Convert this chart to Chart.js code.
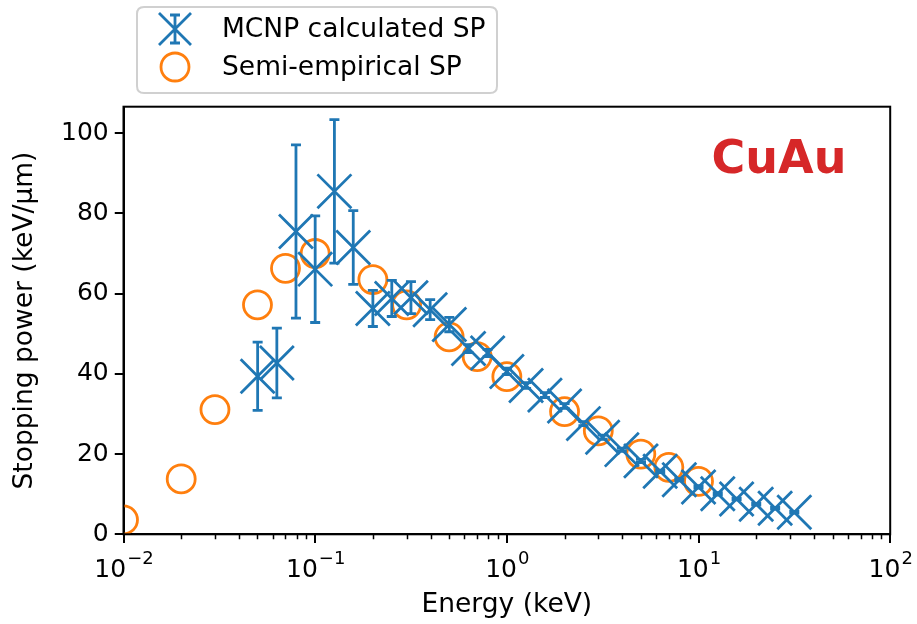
<!DOCTYPE html>
<html>
<head>
<meta charset="utf-8">
<script src="https://cdn.jsdelivr.net/npm/chart.js@4.4.1/dist/chart.umd.min.js"></script>
<style>
  html, body { margin: 0; padding: 0; background: #ffffff; }
  #c { display: block; }
</style>
</head>
<body>
<canvas id="c" width="917" height="624"></canvas>
<script>
// ---- data ----
const energiesMCNP = [0.0501, 0.0631, 0.0794, 0.1, 0.126, 0.158, 0.2, 0.251, 0.316, 0.398,
                      0.501, 0.631, 0.794, 1.0, 1.26, 1.58, 2.0, 2.51, 3.16, 3.98,
                      5.01, 6.31, 7.94, 10.0, 12.6, 15.8, 20.0, 25.1, 31.6];
const spMCNP = [39.4, 42.7, 75.5, 66.1, 85.5, 71.5, 56.3, 58.8, 59.0, 56.0,
                52.3, 46.3, 45.2, 40.6, 37.1, 34.7, 32.0, 27.6, 24.2, 21.1,
                18.3, 15.7, 13.6, 11.8, 10.1, 8.8, 7.5, 6.5, 5.5];
const errMCNP = [8.5, 8.7, 21.6, 13.3, 17.9, 9.2, 4.5, 4.5, 4.0, 2.5,
                 1.8, 1.0, 0.9, 0.8, 0.7, 0.6, 0.6, 0.5, 0.5, 0.4,
                 0.4, 0.3, 0.3, 0.3, 0.3, 0.2, 0.2, 0.2, 0.2];

const energiesSemi = [0.01, 0.02, 0.03, 0.05, 0.07, 0.1, 0.2, 0.3, 0.5, 0.7, 1, 2, 3, 5, 7, 10];
const spSemi = [3.6, 13.8, 31.1, 57.2, 66.3, 70.0, 63.5, 57.2, 49.2, 44.3, 39.3, 30.6, 25.8, 20.0, 16.7, 13.2];

const xTickValues = [0.01, 0.1, 1, 10, 100];
const xTickBase = '10';
const xTickExponents = ['\u22122', '\u22121', '0', '1', '2'];
const yTickValues = [0, 20, 40, 60, 80, 100];

const seriesNames = ['MCNP calculated SP', 'Semi-empirical SP'];
const annotationText = 'CuAu';

const BLUE = '#1f77b4';
const ORANGE = '#ff7f0e';
const FONT = "'DejaVu Sans', sans-serif";

// ---- plugins ----
const errorBarPlugin = {
  id: 'errorBars',
  afterDatasetsDraw(chart) {
    const ctx = chart.ctx, xs = chart.scales.x, ys = chart.scales.y;
    ctx.save();
    ctx.strokeStyle = BLUE;
    ctx.lineWidth = 2.8;
    ctx.lineCap = 'butt';
    for (let i = 0; i < energiesMCNP.length; i++) {
      const px = xs.getPixelForValue(energiesMCNP[i]);
      const y1 = ys.getPixelForValue(spMCNP[i] - errMCNP[i]);
      const y2 = ys.getPixelForValue(spMCNP[i] + errMCNP[i]);
      ctx.beginPath();
      ctx.moveTo(px, y1); ctx.lineTo(px, y2);
      ctx.moveTo(px - 5, y1); ctx.lineTo(px + 5, y1);
      ctx.moveTo(px - 5, y2); ctx.lineTo(px + 5, y2);
      ctx.stroke();
    }
    ctx.restore();
  }
};

const framePlugin = {
  id: 'frame',
  afterDraw(chart) {
    const ctx = chart.ctx, a = chart.chartArea, xs = chart.scales.x;
    ctx.save();
    // minor ticks on log axis
    ctx.strokeStyle = '#000';
    ctx.lineWidth = 1.5;
    ctx.beginPath();
    for (let k = -2; k <= 1; k++) {
      for (let m = 2; m <= 9; m++) {
        const v = m * Math.pow(10, k);
        const px = Math.round(xs.getPixelForValue(v)) + 0.5;
        ctx.moveTo(px, a.bottom); ctx.lineTo(px, a.bottom + 5);
      }
    }
    ctx.stroke();
    // four spines
    ctx.lineWidth = 2;
    ctx.strokeRect(a.left, a.top, a.right - a.left, a.bottom - a.top);

    // x tick labels as 10^n (placed through the x scale)
    ctx.fillStyle = '#000';
    ctx.textBaseline = 'alphabetic';
    ctx.textAlign = 'left';
    const baseFont = "25px " + FONT, supFont = "18px " + FONT;
    xTickValues.forEach((v, i) => {
      const px = xs.getPixelForValue(v);
      ctx.font = baseFont;
      const wb = ctx.measureText(xTickBase).width;
      ctx.font = supFont;
      const we = ctx.measureText(xTickExponents[i]).width;
      const x0 = px - (wb + we) / 2;
      ctx.font = baseFont;
      ctx.fillText(xTickBase, x0, 577);
      ctx.font = supFont;
      ctx.fillText(xTickExponents[i], x0 + wb + 1, 564);
    });

    // annotation
    ctx.fillStyle = '#d62728';
    ctx.font = "bold 46px " + FONT;
    ctx.textAlign = 'center';
    ctx.textBaseline = 'middle';
    ctx.fillText(annotationText, 779, 161);

    // legend
    const lx = 137, ly = 7, lw = 360, lh = 86, r = 7;
    ctx.beginPath();
    ctx.moveTo(lx + r, ly);
    ctx.lineTo(lx + lw - r, ly); ctx.quadraticCurveTo(lx + lw, ly, lx + lw, ly + r);
    ctx.lineTo(lx + lw, ly + lh - r); ctx.quadraticCurveTo(lx + lw, ly + lh, lx + lw - r, ly + lh);
    ctx.lineTo(lx + r, ly + lh); ctx.quadraticCurveTo(lx, ly + lh, lx, ly + lh - r);
    ctx.lineTo(lx, ly + r); ctx.quadraticCurveTo(lx, ly, lx + r, ly);
    ctx.closePath();
    ctx.fillStyle = 'rgba(255,255,255,0.8)';
    ctx.fill();
    ctx.strokeStyle = '#d0d0d0';
    ctx.lineWidth = 2;
    ctx.stroke();

    // legend entry 1: x marker with error bar
    const mx = 175, my1 = 29, my2 = 67;
    ctx.strokeStyle = BLUE;
    ctx.lineWidth = 2.8;
    ctx.beginPath();
    ctx.moveTo(mx - 16, my1 - 16); ctx.lineTo(mx + 16, my1 + 16);
    ctx.moveTo(mx - 16, my1 + 16); ctx.lineTo(mx + 16, my1 - 16);
    ctx.moveTo(mx, my1 - 14); ctx.lineTo(mx, my1 + 14);
    ctx.moveTo(mx - 5, my1 - 14); ctx.lineTo(mx + 5, my1 - 14);
    ctx.moveTo(mx - 5, my1 + 14); ctx.lineTo(mx + 5, my1 + 14);
    ctx.stroke();
    // legend entry 2: circle
    ctx.strokeStyle = ORANGE;
    ctx.beginPath();
    ctx.arc(mx, my2, 14, 0, Math.PI * 2);
    ctx.stroke();

    ctx.fillStyle = '#000';
    ctx.font = "26.5px " + FONT;
    ctx.textAlign = 'left';
    ctx.textBaseline = 'middle';
    ctx.fillText(seriesNames[0], 222, my1 + 1);
    ctx.fillText(seriesNames[1], 222, my2 + 1);
    ctx.restore();
  }
};

const ctx = document.getElementById('c').getContext('2d');
new Chart(ctx, {
  type: 'scatter',
  data: {
    datasets: [
      {
        label: seriesNames[0],
        data: energiesMCNP.map((e, i) => ({ x: e, y: spMCNP[i] })),
        pointStyle: 'crossRot',
        pointRadius: 24,
        pointHoverRadius: 24,
        borderColor: BLUE,
        backgroundColor: BLUE,
        pointBorderWidth: 2.8,
        borderWidth: 2.8,
        showLine: false,
        clip: 0,
        order: 0
      },
      {
        label: seriesNames[1],
        data: energiesSemi.map((e, i) => ({ x: e, y: spSemi[i] })),
        pointStyle: 'circle',
        pointRadius: 14,
        pointHoverRadius: 14,
        borderColor: ORANGE,
        backgroundColor: 'rgba(0,0,0,0)',
        pointBorderWidth: 2.8,
        borderWidth: 2.8,
        showLine: false,
        clip: 0,
        order: 1
      }
    ]
  },
  options: {
    responsive: false,
    animation: false,
    devicePixelRatio: 1,
    events: [],
    layout: { padding: { left: 0, top: 106.7, right: 22.5, bottom: 0 } },
    plugins: { legend: { display: false }, tooltip: { enabled: false } },
    scales: {
      x: {
        type: 'logarithmic',
        min: 0.01,
        max: 100,
        afterBuildTicks(scale) { scale.ticks = xTickValues.map(v => ({ value: v })); },
        afterFit(scale) { scale.height = 624 - 534.3; },
        grid: { display: true, drawOnChartArea: false, drawTicks: true, tickLength: 8.75, color: '#000', lineWidth: 2 },
        border: { display: true, color: '#000', width: 2 },
        ticks: {
          display: false,
          autoSkip: false,
          maxRotation: 0
        },
        title: {
          display: true,
          text: 'Energy (keV)',
          color: '#000',
          font: { family: FONT, size: 26.5 },
          padding: { top: 0, bottom: 3 }
        }
      },
      y: {
        type: 'linear',
        min: 0,
        max: 106.6,
        afterBuildTicks(scale) { scale.ticks = yTickValues.map(v => ({ value: v })); },
        afterFit(scale) { scale.width = 123.5; },
        grid: { display: true, drawOnChartArea: false, drawTicks: true, tickLength: 8.75, color: '#000', lineWidth: 2 },
        border: { display: true, color: '#000', width: 2 },
        ticks: {
          padding: 6,
          color: '#000',
          font: { family: FONT, size: 25 },
          callback: (v) => String(v)
        },
        title: {
          display: true,
          text: 'Stopping power (keV/\u03BCm)',
          color: '#000',
          font: { family: FONT, size: 26.5 },
          padding: { top: 9, bottom: 0 }
        }
      }
    }
  },
  plugins: [errorBarPlugin, framePlugin]
});
</script>
</body>
</html>
